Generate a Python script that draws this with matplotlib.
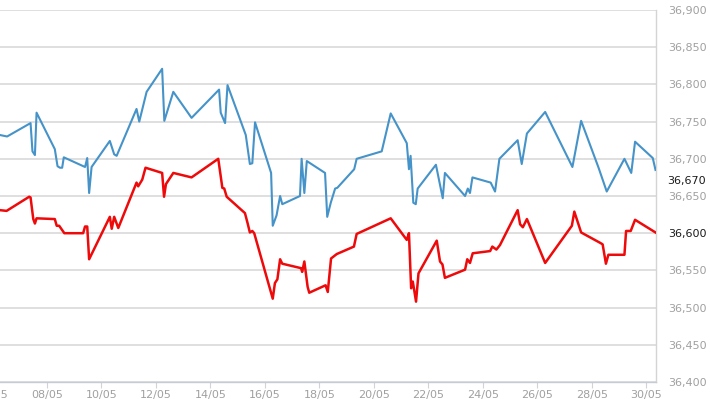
import numpy as np
import matplotlib.pyplot as plt

# Serie azul (dia de mayo, valor)
dias_azul = [6.27, 6.54, 7.40, 7.47, 7.56, 7.62, 8.29, 8.39, 8.48, 8.56, 8.62,
             9.40, 9.48, 9.55, 9.64, 10.31, 10.47, 10.56, 11.29, 11.39, 11.66,
             12.23, 12.31, 12.64, 13.31, 14.32, 14.38, 14.54, 14.63, 15.30, 15.45,
             15.54, 15.64, 16.23, 16.29, 16.43, 16.56, 16.64, 17.29, 17.35, 17.45,
             17.54, 18.21, 18.29, 18.42, 18.58, 18.66, 19.28, 19.37, 20.29, 20.62,
             21.21, 21.29, 21.35, 21.45, 21.54, 21.61, 22.28, 22.53, 22.61, 23.35,
             23.45, 23.53, 23.62, 24.29, 24.45, 24.61, 25.28, 25.43, 25.62, 26.29,
             27.29, 27.61, 28.25, 28.55, 29.20, 29.45, 29.59, 30.24, 30.34]
valores_azul = [36732, 36730, 36748, 36710, 36705, 36762, 36713, 36690, 36688, 36688, 36702,
                36689, 36701, 36654, 36689, 36724, 36706, 36704, 36767, 36750, 36790,
                36821, 36751, 36790, 36755, 36793, 36762, 36748, 36799, 36732, 36693,
                36694, 36749, 36681, 36610, 36624, 36650, 36639, 36650, 36700, 36654,
                36697, 36681, 36622, 36641, 36660, 36661, 36686, 36700, 36710, 36761,
                36721, 36686, 36704, 36641, 36639, 36660, 36692, 36647, 36681, 36650,
                36660, 36654, 36675, 36668, 36656, 36700, 36725, 36693, 36734, 36763,
                36689, 36751, 36688, 36656, 36700, 36681, 36723, 36701, 36685]

# Serie roja
dias_rojo = [6.27, 6.52, 7.35, 7.40, 7.50, 7.56, 7.62, 8.29, 8.36, 8.45, 8.64,
             9.33, 9.40, 9.48, 9.55, 10.31, 10.38, 10.47, 10.62, 11.29, 11.35,
             11.50, 11.62, 12.23, 12.30, 12.37, 12.64, 13.31, 14.29, 14.44, 14.51,
             14.60, 15.27, 15.37, 15.45, 15.54, 15.61, 16.29, 16.37, 16.46, 16.56,
             16.64, 17.33, 17.37, 17.45, 17.57, 17.63, 18.23, 18.31, 18.43, 18.64,
             19.27, 19.37, 20.62, 21.21, 21.29, 21.37, 21.43, 21.48, 21.55, 21.64,
             22.31, 22.43, 22.52, 22.61, 23.35, 23.43, 23.53, 23.63, 24.27, 24.35,
             24.50, 24.63, 25.28, 25.37, 25.47, 25.62, 26.29, 27.27, 27.36, 27.61,
             28.31, 28.40, 28.52, 28.61, 29.20, 29.26, 29.43, 29.59, 30.34]
valores_rojo = [36631, 36630, 36649, 36648, 36619, 36613, 36620, 36619, 36610, 36610, 36600,
                36600, 36609, 36609, 36565, 36622, 36606, 36622, 36607, 36668, 36663,
                36672, 36688, 36681, 36649, 36666, 36681, 36675, 36700, 36661, 36660,
                36649, 36627, 36613, 36601, 36603, 36600, 36512, 36533, 36538, 36565,
                36559, 36553, 36548, 36562, 36528, 36520, 36530, 36521, 36566, 36572,
                36582, 36599, 36620, 36591, 36600, 36526, 36535, 36524, 36508, 36546,
                36590, 36562, 36558, 36540, 36551, 36565, 36560, 36573, 36576, 36582,
                36578, 36584, 36631, 36612, 36608, 36619, 36560, 36610, 36629, 36601,
                36587, 36585, 36559, 36571, 36571, 36603, 36603, 36618, 36601]

dias_ticks = list(range(6, 31, 2))
etiquetas_x = ['%02d/05' % d for d in dias_ticks]
valores_ticks = list(range(36400, 36901, 50))
ultimo_azul = 36670
ultimo_rojo = 36600

plt.rcParams['font.family'] = 'DejaVu Sans'

fig = plt.figure(figsize=(7.10, 3.99), dpi=100)
ax = fig.add_axes([-40/710, 17/399, 695.5/710, 372/399])

ax.plot(dias_azul, valores_azul, color='#4593c8', lw=1.5, zorder=3)
ax.plot(dias_rojo, valores_rojo, color='#ee0a0a', lw=1.8, zorder=4)

ax.set_xlim(4.81, 30.34)
ax.set_ylim(36400, 36900)

ax.set_yticks(valores_ticks)
ax.set_yticklabels(['{:,}'.format(v) for v in valores_ticks])
ax.yaxis.tick_right()
ax.tick_params(axis='y', length=0, pad=9, labelsize=8, labelcolor='#a0a0a0')
for v, lab in zip(valores_ticks, ax.get_yticklabels()):
    if v == ultimo_rojo:
        lab.set_color('#1a1a1a')

ax.text(1.0, ultimo_azul, '{:,}'.format(ultimo_azul), transform=ax.get_yaxis_transform(),
        ha='left', va='center', fontsize=8, color='#1a1a1a')
# desplazar a la misma columna que las etiquetas
ax.texts[-1].set_x(1.0 + 12/695.5)

ax.set_xticks(dias_ticks)
ax.set_xticklabels(etiquetas_x)
ax.tick_params(axis='x', direction='out', length=4, width=0.8, color='#d0d4d8',
               pad=2, labelsize=8, labelcolor='#a0a0a0')

ax.grid(axis='y', color='#d6d6d6', lw=1.1, zorder=0)
ax.grid(axis='x', visible=False)
ax.set_axisbelow(True)

ax.spines['left'].set_visible(False)
ax.spines['top'].set_visible(False)
ax.spines['right'].set_color('#d4d4d4')
ax.spines['right'].set_linewidth(1.0)
ax.spines['bottom'].set_color('#c6ccd2')
ax.spines['bottom'].set_linewidth(1.0)

fig.savefig('out.png', dpi=100)
